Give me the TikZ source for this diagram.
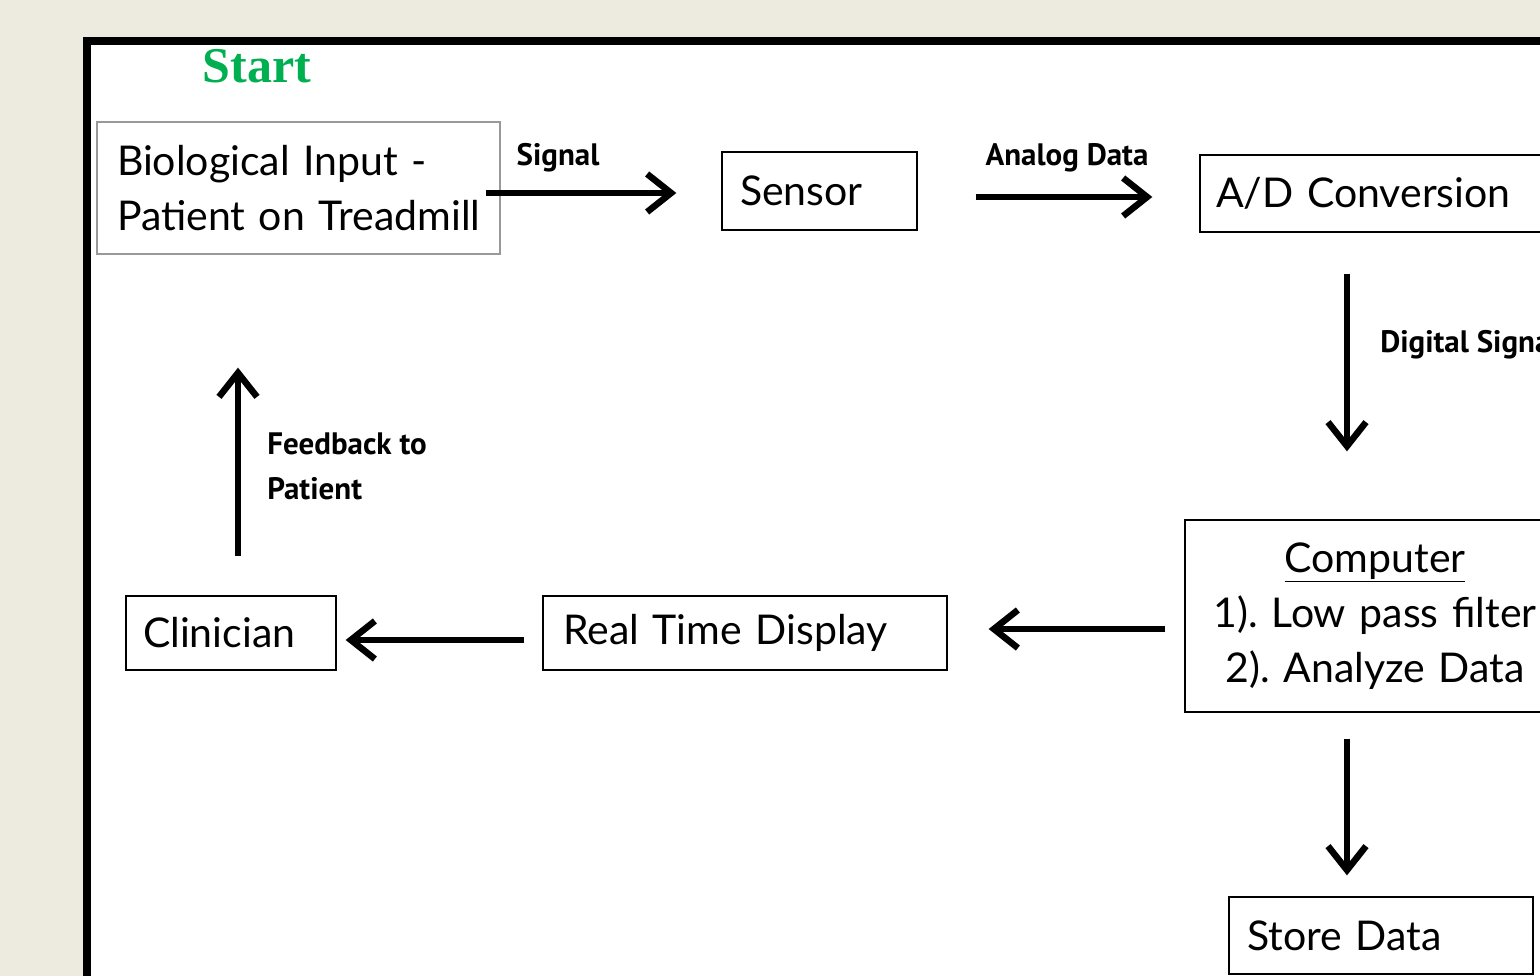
\documentclass[tikz,border=0pt]{standalone}
\usepackage{fontspec}
\setmainfont{Lato}
\newfontfamily\labelfont{PT Sans}
\newfontfamily\startfont{Liberation Serif}
\usetikzlibrary{arrows.meta}
\definecolor{paper}{HTML}{EDEAE0}
\definecolor{startgreen}{HTML}{00B050}

\begin{document}
\begin{tikzpicture}[x=1pt, y=-1pt,
        main/.style = {draw, line width=1.3pt, align=left, inner ysep=0pt,
            font=\fontsize{41}{55}\selectfont\frenchspacing},
        lbl/.style = {font=\labelfont\bfseries\fontsize{31}{45}\selectfont, inner sep=2pt},
        >={Straight Barb[length=24pt, width=38pt]} ]
    \useasboundingbox (0, 0) rectangle (1540, 976);
    \clip (0, 0) rectangle (1540, 976);
    \fill[paper] (0, 0) rectangle (1540, 976);
    \draw[line width=8pt, fill=white] (87, 41) rectangle (1620, 1060);

    \node at (257, 66) [font=\startfont\bfseries\fontsize{50}{50}\selectfont, text=startgreen] (start) {Start};

    \node at (298.5, 188) [main, draw=gray!80, text width=363pt, inner xsep=20pt, minimum height=132pt] (bio) {\mbox{Biological Input -}\\\mbox{Patient on Treadmill}};
    \node at (819.5, 191) [main, text width=159pt, inner xsep=18pt, minimum height=78pt] (sensor) {Sensor};
    \node at (1380, 193.5) [main, text width=328pt, inner xsep=16pt, minimum height=77pt] (ad) {\mbox{A/D Conversion}};
    \node at (1375, 616) [main, align=center, text width=340pt, inner xsep=20pt, minimum height=192pt] (computer) {\underline{Computer}\\\mbox{1). Low pass filter}\\\mbox{2). Analyze Data}};
    \node at (1381, 935.5) [main, text width=268pt, inner xsep=18pt, minimum height=77pt] (store) {\mbox{Store Data}};
    \node at (745, 633) [main, text width=364pt, inner xsep=20pt, minimum height=74pt] (display) {\mbox{Real Time Display}};
    \node at (231, 633) [main, text width=176pt, inner xsep=17pt, minimum height=74pt] (clinician) {Clinician};

    \path[->, line width=6.5pt]
        ([yshift=-5pt]bio.east) edge [shorten <=-15pt, shorten >=45pt] node[lbl, above=16pt, pos=0.26] {Signal} ([yshift=-2pt]sensor.west)
        ([yshift=-6pt]sensor.east) edge [shorten <=58pt, shorten >=47pt] node[lbl, above=20pt, pos=0.53] {Analog Data} ([yshift=-3.5pt]ad.west)
        ([xshift=-33pt]ad.south) edge [shorten <=41pt, shorten >=68pt] node[lbl, right=28pt, pos=0.39] {Digital Signal} ([xshift=-28pt]computer.north)
        ([yshift=-13pt]computer.west) edge [shorten <=19pt, shorten >=41pt] ([yshift=4pt]display.east)
        ([yshift=-7pt]display.west) edge [shorten <=18pt, shorten >=9pt] ([yshift=-7pt]clinician.east)
        ([xshift=7pt]clinician.north) edge [shorten <=39pt, shorten >=113pt] node[lbl, right=24pt, pos=0.38, align=left] {Feedback to\\Patient} ([xshift=-60.5pt]bio.south)
        ([xshift=-28pt]computer.south) edge [shorten <=26pt, shorten >=21pt] ([xshift=-34pt]store.north);
\end{tikzpicture}
\end{document}
